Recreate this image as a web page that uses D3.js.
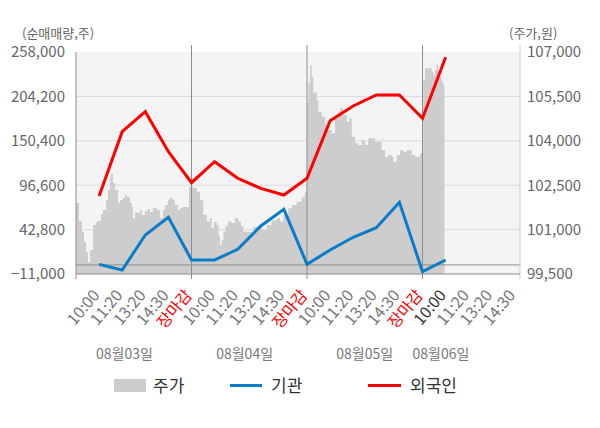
<!DOCTYPE html>
<html>
<head>
<meta charset="utf-8">
<script src="https://cdn.jsdelivr.net/npm/d3@7"></script>
<style>
  body { margin: 0; background: #fff; }
  text { font-family: "Noto Sans CJK KR", "Noto Sans", sans-serif; }
</style>
</head>
<body>
<div id="chart"></div>
<script>
// x positions are in "slots": one slot per time label, 5 per trading day
const xLabels = [
  "10:00", "11:20", "13:20", "14:30", "장마감",
  "10:00", "11:20", "13:20", "14:30", "장마감",
  "10:00", "11:20", "13:20", "14:30", "장마감",
  "10:00", "11:20", "13:20", "14:30"
];
const dates = ["08월03일", "08월04일", "08월05일", "08월06일"];
const dateSlots = [2.1, 7.3, 12.5, 15.8];
const currentSlot = 16; // last label with data

// net buying (shares), one value per label slot 1..16
const foreign = [83500, 161400, 185700, 137200, 99600, 125100, 105000, 92800, 84700, 105000,
                 174800, 192600, 205900, 205900, 177700, 251600];
const inst = [700, -6200, 36300, 57700, 6000, 6000, 18900, 47200, 67400, 700,
              18100, 33500, 45100, 75900, -8200, 6000];

// intraday price, [slot, won]
const price = [
  [0, 101900], [0.13, 101290], [0.26, 100920], [0.35, 100580], [0.43, 100240], [0.52, 99905],
  [0.61, 100310], [0.74, 101155], [0.86, 101260], [0.95, 101290], [1.08, 101530], [1.17, 101660],
  [1.30, 102000], [1.38, 102340], [1.47, 102740], [1.51, 102880], [1.60, 102575], [1.69, 102340],
  [1.82, 101900], [1.90, 102000], [2.03, 102070], [2.12, 102170], [2.21, 102100], [2.34, 101900],
  [2.42, 101760], [2.46, 101390], [2.55, 101590], [2.64, 101560], [2.77, 101660], [2.85, 101490],
  [2.98, 101630], [3.11, 101700], [3.20, 101595], [3.33, 101730], [3.50, 101660], [3.63, 101390],
  [3.76, 101660], [3.85, 101830], [3.98, 102000], [4.06, 102070], [4.19, 102000], [4.28, 101830],
  [4.41, 101660], [4.50, 101730], [4.63, 101760], [4.80, 101760], [4.89, 102440],
  [4.97, 102450], [5.08, 102405], [5.23, 102280], [5.37, 102000], [5.51, 101490], [5.66, 101270],
  [5.80, 101390], [5.87, 101055], [5.97, 101260], [6.09, 101155], [6.17, 100820], [6.23, 100480],
  [6.30, 100650], [6.38, 100930], [6.47, 101120], [6.57, 101270], [6.74, 101220], [6.88, 101380],
  [7.03, 101270], [7.14, 101120], [7.24, 100930], [7.46, 100930], [7.68, 101100], [7.82, 101100],
  [8.04, 100990], [8.26, 101155], [8.47, 101320], [8.69, 101390], [8.83, 101270], [8.97, 101490],
  [9.19, 101720], [9.34, 101830], [9.55, 101940], [9.77, 102110], [9.91, 102280],
  [9.99, 105280], [10.06, 105950], [10.13, 106560], [10.20, 106165], [10.27, 105615], [10.35, 105660],
  [10.42, 105380], [10.49, 104980], [10.64, 104815], [10.78, 104530], [10.92, 104365], [11.07, 104250],
  [11.21, 104760], [11.36, 104980], [11.43, 105100], [11.57, 104870], [11.72, 104645], [11.83, 104760],
  [11.94, 104140], [12.08, 103915], [12.22, 103860], [12.37, 104030], [12.51, 103860], [12.65, 104085],
  [12.80, 104085], [12.94, 103970], [13.09, 103970], [13.23, 103690], [13.38, 103460], [13.52, 103520],
  [13.67, 103460], [13.74, 103295], [13.88, 103520], [14.03, 103690], [14.17, 103630], [14.32, 103690],
  [14.53, 103520], [14.68, 103460], [14.89, 103580],
  [15.03, 106050], [15.11, 106450], [15.18, 106450], [15.29, 106450], [15.40, 106335], [15.47, 106225],
  [15.54, 106390], [15.61, 106560], [15.68, 106335], [15.76, 106165], [15.83, 106000], [15.90, 105885],
  [15.95, 105830]
];

const leftTicks = [-11000, 42800, 96600, 150400, 204200, 258000];
const rightTicks = [99500, 101000, 102500, 104000, 105500, 107000];

const width = 600, height = 428;
const plot = { left: 76, right: 520, top: 52, bottom: 274 };

const svg = d3.select("#chart").append("svg")
    .attr("width", width)
    .attr("height", height);

const x = d3.scaleLinear().domain([0, 19.22]).range([plot.left, plot.right]);
const yL = d3.scaleLinear().domain([-11000, 258000]).range([plot.bottom, plot.top]);
const yR = d3.scaleLinear().domain([99500, 107000]).range([plot.bottom, plot.top]);
const fmt = d3.format(",");

// background
svg.append("rect")
    .attr("x", plot.left).attr("y", plot.top)
    .attr("width", plot.right - plot.left).attr("height", plot.bottom - plot.top)
    .attr("fill", "#f4f4f4");

// grid lines
svg.append("g").selectAll("line")
  .data(leftTicks.slice(1, -1))
  .enter().append("line")
    .attr("x1", plot.left).attr("x2", plot.right)
    .attr("y1", d => yL(d)).attr("y2", d => yL(d))
    .attr("stroke", "#dadada");

// price area
const area = d3.area()
    .x(d => x(d[0]))
    .y0(plot.bottom)
    .y1(d => yR(d[1]))
    .curve(d3.curveStepAfter);

svg.append("path")
    .datum(price)
    .attr("d", area)
    .attr("fill", "#cdcdcd");

// zero line
svg.append("line")
    .attr("x1", plot.left).attr("x2", plot.right)
    .attr("y1", yL(0)).attr("y2", yL(0))
    .attr("stroke", "#8c8c8c");

// day separators
const dayBreaks = [5, 10, 15];
svg.append("g").selectAll("line")
  .data(dayBreaks)
  .enter().append("line")
    .attr("x1", d => x(d)).attr("x2", d => x(d))
    .attr("y1", 45).attr("y2", plot.bottom + 5)
    .attr("stroke", "#8c8c8c");

// axes frame
svg.append("line")
    .attr("x1", plot.left).attr("x2", plot.left)
    .attr("y1", plot.top).attr("y2", plot.bottom + 5)
    .attr("stroke", "#8c8c8c");
svg.append("line")
    .attr("x1", plot.right).attr("x2", plot.right)
    .attr("y1", 45).attr("y2", plot.bottom + 5)
    .attr("stroke", "#cccccc");
svg.append("line")
    .attr("x1", plot.left).attr("x2", plot.right)
    .attr("y1", plot.bottom).attr("y2", plot.bottom)
    .attr("stroke", "#8c8c8c");

// lines
const line = d3.line()
    .x((d, i) => x(i + 1))
    .y(d => yL(d));

svg.append("path")
    .datum(inst)
    .attr("d", line)
    .attr("fill", "none")
    .attr("stroke", "#0a7cc8")
    .attr("stroke-width", 3);

svg.append("path")
    .datum(foreign)
    .attr("d", line)
    .attr("fill", "none")
    .attr("stroke", "#ff0000")
    .attr("stroke-width", 3);

// y tick labels
svg.append("g").selectAll("text")
  .data(leftTicks)
  .enter().append("text")
    .attr("x", 65)
    .attr("y", d => yL(d))
    .attr("dy", "0.36em")
    .attr("text-anchor", "end")
    .attr("font-size", 15)
    .attr("fill", "#666")
    .text(d => fmt(d));

svg.append("g").selectAll("text")
  .data(rightTicks)
  .enter().append("text")
    .attr("x", 527)
    .attr("y", d => yR(d))
    .attr("dy", "0.36em")
    .attr("font-size", 15)
    .attr("fill", "#666")
    .text(d => fmt(d));

svg.append("text")
    .attr("x", 22).attr("y", 38)
    .attr("font-size", 13).attr("fill", "#666")
    .text("(순매매량,주)");
svg.append("text")
    .attr("x", 509).attr("y", 38)
    .attr("font-size", 13).attr("fill", "#666")
    .text("(주가,원)");

// x labels
svg.append("g").selectAll("text")
  .data(xLabels)
  .enter().append("text")
    .attr("transform", (d, i) => "translate(" + (x(i + 1) - 3) + "," + 292 + ")rotate(-50)")
    .attr("text-anchor", "end")
    .attr("dy", "0.35em")
    .attr("font-size", 16)
    .attr("fill", (d, i) => d === "장마감" ? "#ff0000" : (i + 1 === currentSlot ? "#333" : "#777"))
    .text(d => d);

// dates
svg.append("g").selectAll("text")
  .data(dates)
  .enter().append("text")
    .attr("x", (d, i) => x(dateSlots[i]))
    .attr("y", 359)
    .attr("text-anchor", "middle")
    .attr("font-size", 14)
    .attr("fill", "#777")
    .text(d => d);

// legend
const legend = svg.append("g");
legend.append("rect")
    .attr("x", 114).attr("y", 379).attr("width", 32).attr("height", 13)
    .attr("fill", "#cdcdcd");
legend.append("text").attr("x", 153).attr("y", 392)
    .attr("font-size", 17).attr("fill", "#333").text("주가");
legend.append("line")
    .attr("x1", 230).attr("x2", 262).attr("y1", 385.5).attr("y2", 385.5)
    .attr("stroke", "#0a7cc8").attr("stroke-width", 3);
legend.append("text").attr("x", 271).attr("y", 392)
    .attr("font-size", 17).attr("fill", "#333").text("기관");
legend.append("line")
    .attr("x1", 368).attr("x2", 401).attr("y1", 385.5).attr("y2", 385.5)
    .attr("stroke", "#ff0000").attr("stroke-width", 3);
legend.append("text").attr("x", 410).attr("y", 392)
    .attr("font-size", 17).attr("fill", "#333").text("외국인");
</script>
</body>
</html>
